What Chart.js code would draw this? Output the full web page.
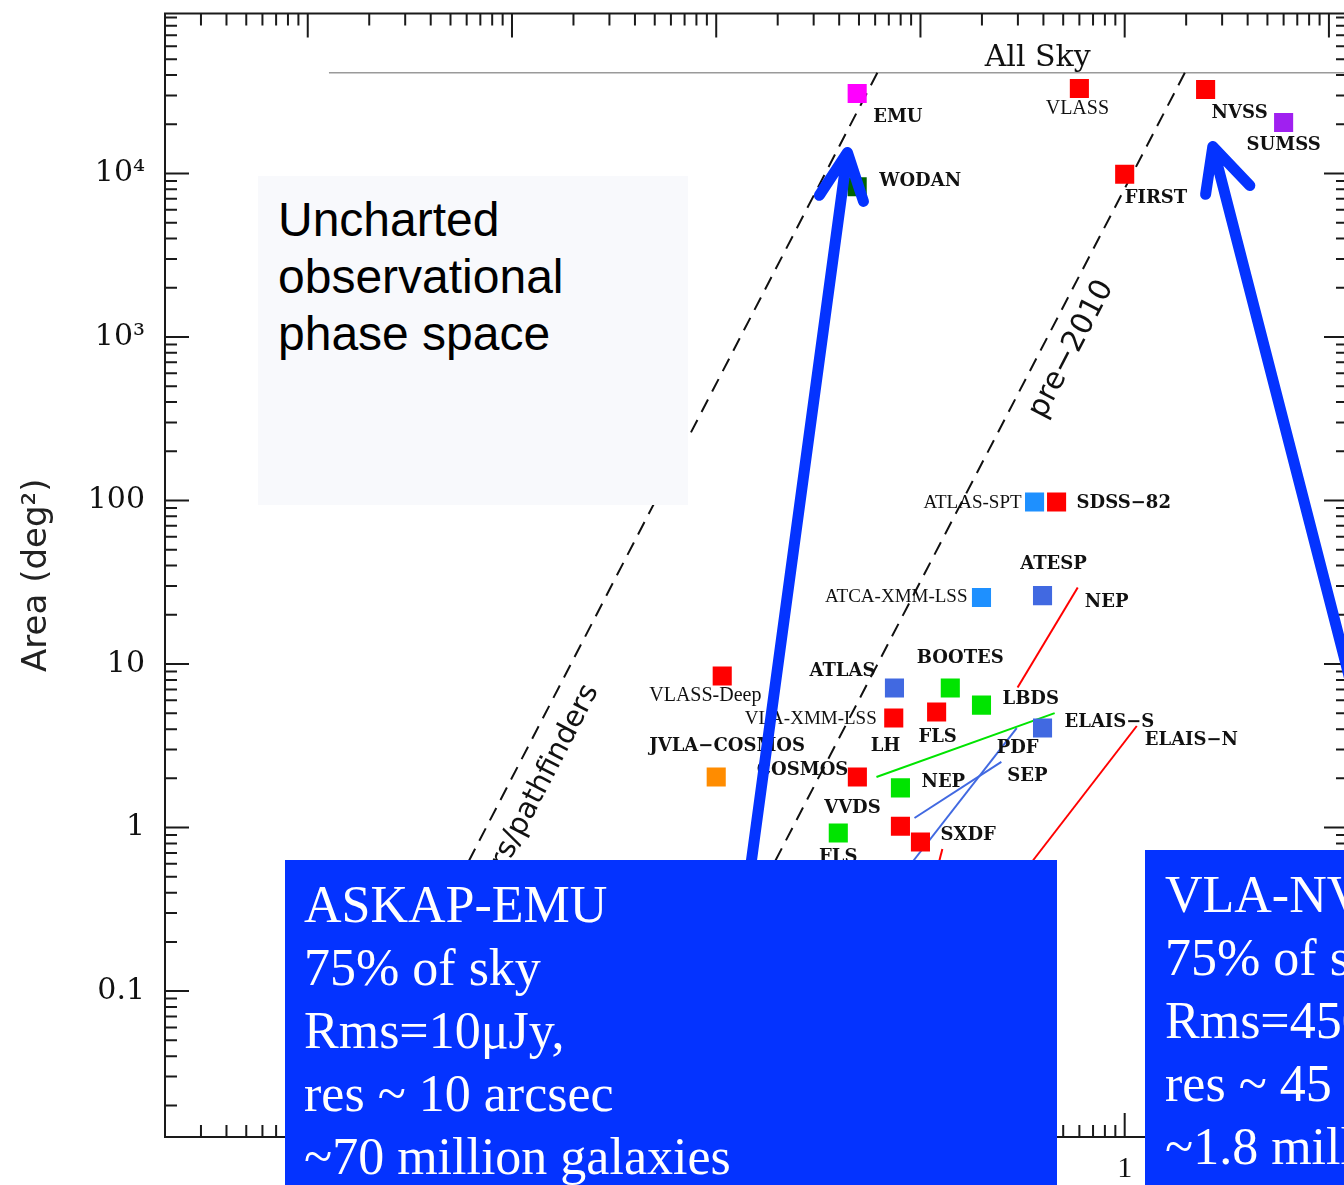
<!DOCTYPE html>
<html>
<head>
<meta charset="utf-8">
<script src="https://cdn.jsdelivr.net/npm/chart.js@4.4.1/dist/chart.umd.min.js"></script>
<style>
  html, body { margin: 0; padding: 0; background: #fff; overflow: hidden; }
  #wrap { position: relative; width: 1362px; height: 1185px; }
  #chart { position: absolute; left: 0; top: 0; }
  .note { position: absolute; box-sizing: border-box; white-space: nowrap; overflow: hidden; }
  #uncharted { left: 258px; top: 176px; width: 430px; height: 329px; background: #f8f9fc;
    padding: 15px 0 0 20px; font: 48px/57px 'Liberation Sans', Arial, sans-serif; color: #000; }
  .blue { background: #0433ff; color: #fff; font: 52px/63px 'Liberation Serif', 'Times New Roman', serif;
    padding: 13px 0 0 19px; }
  #emuBox { left: 285px; top: 860px; width: 772px; height: 325px; }
  #nvssBox { left: 1145px; top: 850px; width: 217px; height: 335px; padding-left: 20px; }
</style>
</head>
<body>
<div id="wrap">
  <canvas id="chart" width="1362" height="1185"></canvas>
  <div class="note" id="uncharted">Uncharted<br>observational<br>phase space</div>
  <div class="note blue" id="emuBox">ASKAP-EMU<br>75% of sky<br>Rms=10μJy,<br>res ~ 10 arcsec<br>~70 million galaxies</div>
  <div class="note blue" id="nvssBox">VLA-NVSS<br>75% of sky<br>Rms=450μJy,<br>res ~ 45 arcsec<br>~1.8 million galaxies</div>
</div>
<script>
// surveys: 5 sigma sensitivity (mJy) vs area (deg^2)
const surveyNames = ['EMU', 'WODAN', 'VLASS', 'NVSS', 'SUMSS', 'FIRST', 'ATLAS-SPT', 'SDSS−82', 'ATESP',
  'ATCA-XMM-LSS', 'VLASS-Deep', 'ATLAS', 'BOOTES', 'LBDS', 'VLA-XMM-LSS', 'FLS', 'ELAIS−S', 'COSMOS',
  'JVLA−COSMOS', 'NEP', 'FLS', 'VVDS', 'SXDF'];
const sensitivity = [0.049, 0.049, 0.60, 2.49, 6.0, 1.0, 0.362, 0.464, 0.396,
  0.199, 0.0107, 0.0746, 0.140, 0.199, 0.0740, 0.120, 0.396, 0.0491,
  0.0100, 0.0798, 0.0396, 0.0798, 0.100];
const area = [30800, 8300, 33100, 32600, 20500, 9900, 98, 98, 26.2,
  25.5, 8.45, 7.13, 7.13, 5.61, 4.68, 5.09, 4.06, 2.04,
  2.04, 1.75, 0.927, 1.02, 0.816];

// surveys that span a range (deep -> wide)
const rangeNames = ['NEP', 'LH', 'PDF', 'SEP', 'ELAIS−N', ''];
const rangeStart = [[0.589, 29.4], [0.0609, 2.04], [0.296, 4.06], [0.249, 2.52], [1.146, 4.18], [0.128, 0.740]];
const rangeEnd = [[0.299, 7.19], [0.454, 5.01], [0.078, 0.478], [0.0935, 1.145], [0.30, 0.478], [0.117, 0.478]];

// dashed survey-speed limits
const limitNames = ['SKA precursors/pathfinders', 'pre−2010'];
const limitStart = [[0.0615, 41253], [1.97, 41253]];
const limitEnd = [[5.5e-4, 0.478], [0.0174, 0.478]];

const allSkyArea = 41253;
const allSkyFrom = 1.27e-4;

const xTickValues = [1e-4, 1e-3, 0.01, 0.1, 1, 10];
const xTickLabels = ['10⁻⁴', '10⁻³', '0.01', '0.1', '1', '10'];
const yTickValues = [0.1, 1, 10, 100, 1000, 10000];
const yTickLabels = ['0.1', '1', '10', '100', '10³', '10⁴'];

// arrows (data coords): tail, tip, left wing, right wing
const arrowEmu = [[0.0140, 0.360], [0.0439, 13430], [0.0320, 7350], [0.0526, 6750]];
const arrowNvss = [[12.7, 7.98], [2.70, 14600], [2.49, 7450], [4.10, 8450]];

// styles
const RED = '#ff0000', GREEN = '#00e400', ROYAL = '#4169e1', DODGER = '#1e90ff';
const surveyColors = ['#ff00ff', '#006400', RED, RED, '#a020f0', RED, DODGER, RED, ROYAL,
  DODGER, RED, ROYAL, GREEN, GREEN, RED, RED, ROYAL, RED,
  '#ff8c00', GREEN, GREEN, RED, RED];
const rangeColors = [RED, GREEN, ROYAL, ROYAL, RED, RED];

const BOOK = 'bold 18px "DejaVu Serif", serif';
const TIMES = '19px "Liberation Serif", serif';
// label placement: offset from marker centre (px), alignment, font
const labelLayout = [
  [16, 24, 'left', BOOK], [22, -5, 'left', BOOK], [-2, 20, 'center', '20px "Liberation Serif", serif'],
  [6, 24, 'left', BOOK], [-37, 23, 'left', BOOK], [0, 24, 'left', BOOK],
  [-13, 1, 'right', TIMES], [20, 1, 'left', BOOK], [11, -31, 'center', BOOK],
  [-14, -1, 'right', TIMES], [-73, 20, 'left', '20px "Liberation Serif", serif'], [-19, -17, 'right', BOOK],
  [10, -30, 'center', BOOK], [21, -6, 'left', BOOK], [-17, 1, 'right', TIMES],
  [1, 25, 'center', BOOK], [22, -6, 'left', BOOK], [-9, -7, 'right', BOOK],
  [-67, -31, 'left', BOOK], [21, -6, 'left', BOOK], [0, 24, 'center', BOOK],
  [-48, -18, 'center', BOOK], [20, -7, 'left', BOOK]
];
const rangeLabelLayout = [[7, 15, 'left'], [9, -31, 'center'], [-20, 20, 'left'], [6, 14, 'left'], [8, 14, 'left'], [0, 0, 'left']];
const limitLabelLayout = [{ t: 0.744, normal: 29, align: 'right', font: '29px "DejaVu Sans", sans-serif' },
  { t: 0.327, normal: 27, align: 'center', font: '30px "DejaVu Sans", sans-serif' }];

const pt = (p) => ({ x: p[0], y: p[1] });

const datasets = [{
  data: sensitivity.map((s, i) => ({ x: s, y: area[i] })),
  pointStyle: 'rect', pointRadius: 13.5, pointHoverRadius: 13.5, borderWidth: 0,
  pointBackgroundColor: surveyColors, pointBorderWidth: 0
}];
rangeStart.forEach((p, i) => datasets.push({
  data: [pt(p), pt(rangeEnd[i])], showLine: true, pointRadius: 0,
  borderColor: rangeColors[i], borderWidth: 2
}));
limitStart.forEach((p, i) => datasets.push({
  data: [pt(p), pt(limitEnd[i])], showLine: true, pointRadius: 0,
  borderColor: '#111', borderWidth: 2, borderDash: [14, 9]
}));
datasets.push({
  data: [{ x: allSkyFrom, y: allSkyArea }, { x: 12.4, y: allSkyArea }], showLine: true, pointRadius: 0,
  borderColor: '#9a9a9a', borderWidth: 1.5
});

const frameTicks = {
  id: 'frameTicks',
  beforeDatasetsDraw(chart) {
    const { ctx, chartArea: a, scales: { x, y } } = chart;
    ctx.save();
    ctx.strokeStyle = '#1a1a1a';
    ctx.lineWidth = 2;
    ctx.strokeRect(a.left, a.top, a.right - a.left, a.bottom - a.top);
    const eachTick = (scale, cb) => {
      for (let e = Math.floor(Math.log10(scale.min)); e <= Math.ceil(Math.log10(scale.max)); e++) {
        for (let m = 1; m <= 9; m++) {
          const v = m * Math.pow(10, e);
          if (v < scale.min || v > scale.max) continue;
          cb(scale.getPixelForValue(v), m === 1 ? 24 : 12);
        }
      }
    };
    ctx.beginPath();
    eachTick(y, (p, len) => { ctx.moveTo(a.left, p); ctx.lineTo(a.left + len, p); ctx.moveTo(a.right, p); ctx.lineTo(a.right - len, p); });
    eachTick(x, (p, len) => { ctx.moveTo(p, a.top); ctx.lineTo(p, a.top + len); ctx.moveTo(p, a.bottom); ctx.lineTo(p, a.bottom - len); });
    ctx.stroke();
    ctx.restore();
  }
};

const annotations = {
  id: 'annotations',
  afterDatasetsDraw(chart) {
    const { ctx, scales: { x, y } } = chart;
    const P = (p) => [x.getPixelForValue(p[0]), y.getPixelForValue(p[1])];
    ctx.save();
    ctx.fillStyle = '#111';
    ctx.textBaseline = 'middle';
    // survey labels
    const meta = chart.getDatasetMeta(0);
    surveyNames.forEach((name, i) => {
      const el = meta.data[i];
      const [dx, dy, align, font] = labelLayout[i];
      ctx.font = font;
      ctx.textAlign = align;
      ctx.fillText(name, el.x + dx, el.y + dy);
    });
    // range labels
    ctx.font = BOOK;
    rangeNames.forEach((name, i) => {
      if (!name) return;
      const [sx, sy] = P(rangeStart[i]);
      const [dx, dy, align] = rangeLabelLayout[i];
      ctx.textAlign = align;
      ctx.fillText(name, sx + dx, sy + dy);
    });
    // labels along dashed limits
    limitNames.forEach((name, i) => {
      const a = P(limitStart[i]), b = P(limitEnd[i]);
      const L = limitLabelLayout[i];
      const ang = Math.atan2(a[1] - b[1], a[0] - b[0]);
      ctx.save();
      ctx.translate(a[0] + L.t * (b[0] - a[0]), a[1] + L.t * (b[1] - a[1]));
      ctx.rotate(ang);
      ctx.font = L.font;
      ctx.textAlign = L.align;
      ctx.fillText(name, 0, L.normal);
      ctx.restore();
    });
    // All Sky
    ctx.font = '30px "DejaVu Serif", serif';
    ctx.textAlign = 'center';
    ctx.fillText('All Sky', x.getPixelForValue(0.375), y.getPixelForValue(allSkyArea) - 15);
    ctx.restore();
  },
  afterDraw(chart) {
    const { ctx, scales: { x, y } } = chart;
    const P = (p) => [x.getPixelForValue(p[0]), y.getPixelForValue(p[1])];
    ctx.save();
    ctx.strokeStyle = '#0433ff';
    ctx.lineWidth = 11;
    ctx.lineCap = 'round';
    ctx.lineJoin = 'round';
    [arrowEmu, arrowNvss].forEach((arr) => {
      const [tail, tip, w1, w2] = arr.map(P);
      ctx.beginPath();
      ctx.moveTo(tail[0], tail[1]);
      ctx.lineTo(tip[0], tip[1]);
      ctx.moveTo(w1[0], w1[1]);
      ctx.lineTo(tip[0], tip[1]);
      ctx.lineTo(w2[0], w2[1]);
      ctx.stroke();
    });
    ctx.restore();
  }
};

const noPad = (s) => { s.paddingTop = 0; s.paddingBottom = 0; s.paddingLeft = 0; s.paddingRight = 0; };

new Chart(document.getElementById('chart'), {
  type: 'scatter',
  data: { datasets },
  options: {
    responsive: false,
    animation: false,
    devicePixelRatio: 1,
    layout: { padding: { top: 13, right: 14, left: 0, bottom: 0 } },
    plugins: { legend: { display: false }, tooltip: { enabled: false } },
    scales: {
      x: {
        type: 'logarithmic', position: 'bottom', min: 2e-5, max: 12.4,
        grid: { display: false, drawTicks: false }, border: { display: false },
        afterBuildTicks: (s) => { s.ticks = xTickValues.map((v) => ({ value: v })); },
        afterFit: (s) => { s.height = 48; noPad(s); },
        ticks: {
          autoSkip: false, maxRotation: 0, padding: 14, color: '#111',
          font: { family: '"Liberation Serif", serif', size: 30 },
          callback: (v, i) => xTickLabels[i]
        }
      },
      y: {
        type: 'logarithmic', min: 0.01282, max: 95100,
        grid: { display: false, drawTicks: false }, border: { display: false },
        afterBuildTicks: (s) => { s.ticks = yTickValues.map((v) => ({ value: v })); },
        afterFit: (s) => { s.width = 165; noPad(s); },
        title: {
          display: true, text: 'Area (deg²)', color: '#222', padding: { top: 17, bottom: 0 },
          font: { family: '"DejaVu Sans", sans-serif', size: 34 }
        },
        ticks: {
          autoSkip: false, padding: 20, color: '#111',
          font: { family: '"DejaVu Serif", serif', size: 30 },
          callback: (v, i) => yTickLabels[i]
        }
      }
    }
  },
  plugins: [frameTicks, annotations]
});
</script>
</body>
</html>
